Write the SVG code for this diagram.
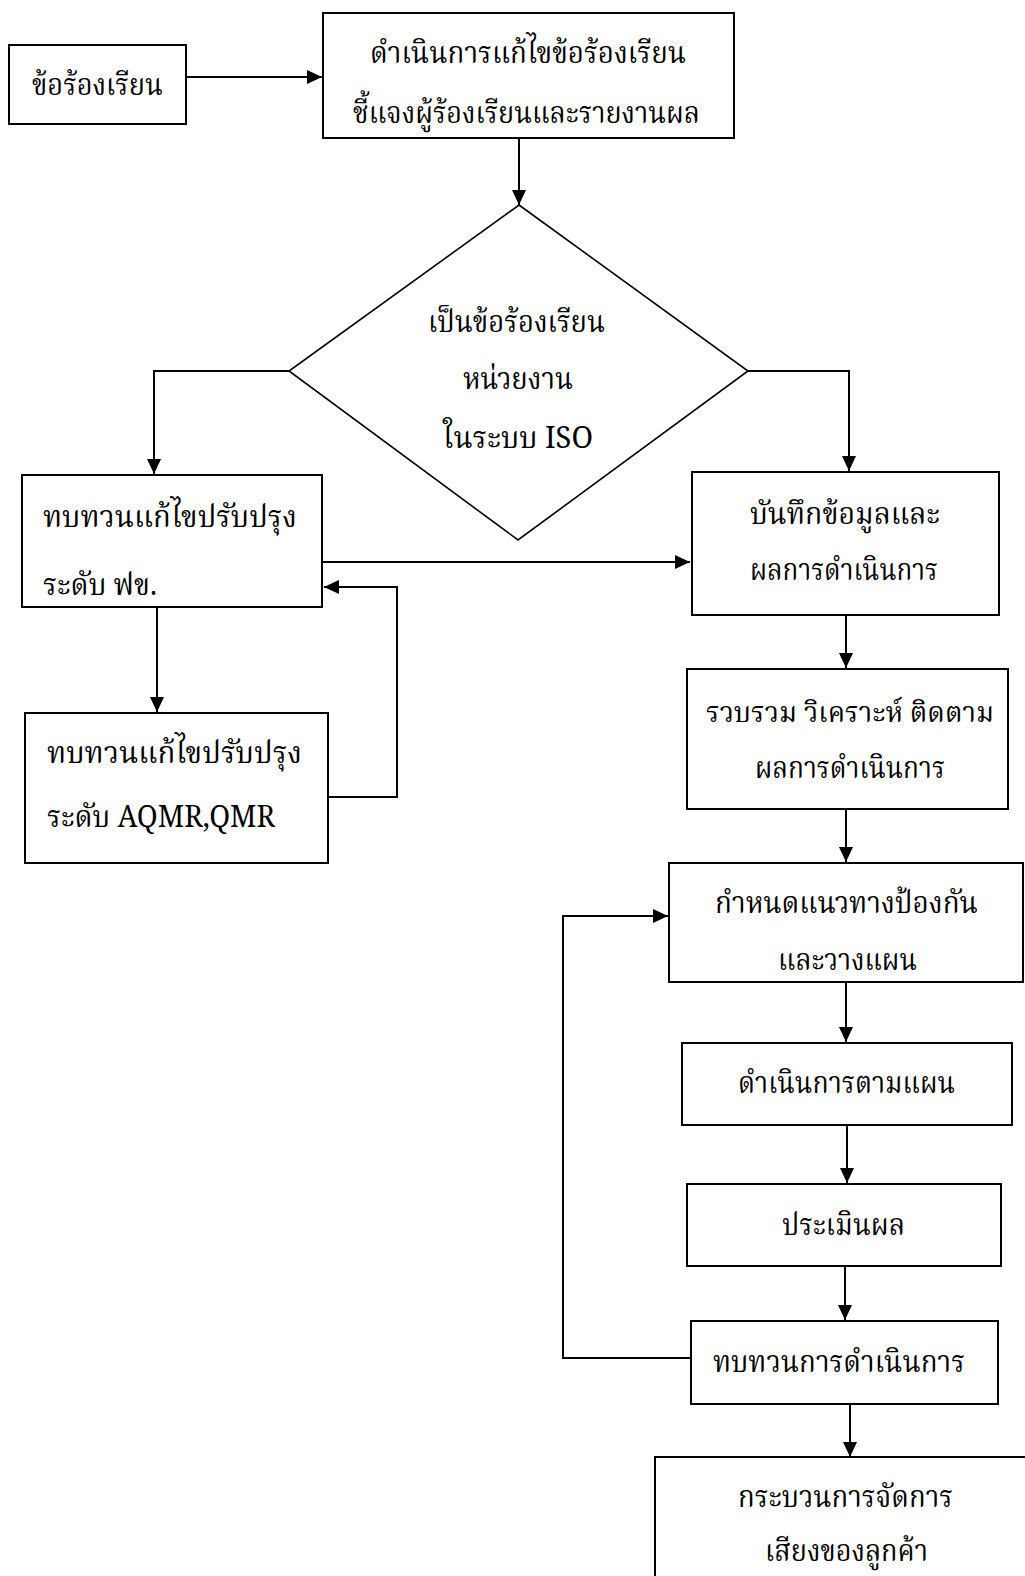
<svg xmlns="http://www.w3.org/2000/svg" width="1025" height="1576" viewBox="0 0 1025 1576">
<style>
.box{fill:#fff;stroke:#000;stroke-width:2}
.dia{fill:#fff;stroke:#000;stroke-width:1.6}
.c{fill:none;stroke:#000;stroke-width:2}
text{font-family:"Noto Serif Thai","Noto Sans Thai","Liberation Serif","DejaVu Serif",serif;font-size:31px;fill:#000}
.sm{font-size:28px}
</style>
<defs>
<marker id="ah" markerUnits="userSpaceOnUse" markerWidth="16" markerHeight="14" refX="15" refY="7" orient="auto">
<path d="M0,0 L15,7 L0,14 z" fill="#000"/>
</marker>
</defs>
<rect width="1025" height="1576" fill="#fff"/>
<g id="connectors">
<path class="c" d="M186,77 H322" marker-end="url(#ah)"/>
<path class="c" d="M519,138 V205" marker-end="url(#ah)"/>
<path class="c" d="M289,371 H154 V474" marker-end="url(#ah)"/>
<path class="c" d="M748,371 H849 V471" marker-end="url(#ah)"/>
<path class="c" d="M322,562 H690" marker-end="url(#ah)"/>
<path class="c" d="M157,607 V712" marker-end="url(#ah)"/>
<path class="c" d="M328,797 H397 V587 H324" marker-end="url(#ah)"/>
<path class="c" d="M846,615 V668" marker-end="url(#ah)"/>
<path class="c" d="M846,809 V862" marker-end="url(#ah)"/>
<path class="c" d="M846,982 V1042" marker-end="url(#ah)"/>
<path class="c" d="M847,1125 V1183" marker-end="url(#ah)"/>
<path class="c" d="M845,1266 V1320" marker-end="url(#ah)"/>
<path class="c" d="M850,1404 V1457" marker-end="url(#ah)"/>
<path class="c" d="M691,1358 H563 V916 H668" marker-end="url(#ah)"/>
</g>
<g id="n-complaint">
<rect class="box" x="9" y="45" width="177" height="79"/>
<text x="32" y="95" textLength="131" lengthAdjust="spacingAndGlyphs">ข้อร้องเรียน</text>
</g>
<g id="n-handle">
<rect class="box" x="323" y="13" width="411" height="125"/>
<text x="370" y="63" textLength="316" lengthAdjust="spacingAndGlyphs">ดำเนินการแก้ไขข้อร้องเรียน</text>
<text x="353" y="123" textLength="347" lengthAdjust="spacingAndGlyphs">ชี้แจงผู้ร้องเรียนและรายงานผล</text>
</g>
<g id="n-decision">
<polygon class="dia" points="519,205 748,371 518,540 289,371"/>
<text x="428" y="332" textLength="177" lengthAdjust="spacingAndGlyphs">เป็นข้อร้องเรียน</text>
<text x="463" y="389" textLength="110" lengthAdjust="spacingAndGlyphs">หน่วยงาน</text>
<text x="443" y="448" textLength="150" lengthAdjust="spacingAndGlyphs">ในระบบ ISO</text>
</g>
<g id="n-review-fk">
<rect class="box" x="22" y="475" width="300" height="132"/>
<text x="43" y="527" textLength="254" lengthAdjust="spacingAndGlyphs">ทบทวนแก้ไขปรับปรุง</text>
<text x="43" y="595" textLength="114" lengthAdjust="spacingAndGlyphs">ระดับ ฟข.</text>
</g>
<g id="n-record">
<rect class="box" x="692" y="472" width="307" height="143"/>
<text x="750" y="524" textLength="190" lengthAdjust="spacingAndGlyphs">บันทึกข้อมูลและ</text>
<text x="750" y="580" textLength="188" lengthAdjust="spacingAndGlyphs">ผลการดำเนินการ</text>
</g>
<g id="n-review-aqmr">
<rect class="box" x="25" y="713" width="303" height="150"/>
<text x="47" y="763" textLength="255" lengthAdjust="spacingAndGlyphs">ทบทวนแก้ไขปรับปรุง</text>
<text x="47" y="827" textLength="228" lengthAdjust="spacingAndGlyphs">ระดับ AQMR,QMR</text>
</g>
<g id="n-analyze">
<rect class="box" x="687" y="669" width="321" height="140"/>
<text class="sm" x="706" y="722" textLength="288" lengthAdjust="spacingAndGlyphs">รวบรวม วิเคราะห์ ติดตาม</text>
<text x="755" y="778" textLength="190" lengthAdjust="spacingAndGlyphs">ผลการดำเนินการ</text>
</g>
<g id="n-prevent">
<rect class="box" x="669" y="863" width="354" height="119"/>
<text x="715" y="913" textLength="263" lengthAdjust="spacingAndGlyphs">กำหนดแนวทางป้องกัน</text>
<text x="778" y="970" textLength="139" lengthAdjust="spacingAndGlyphs">และวางแผน</text>
</g>
<g id="n-execute">
<rect class="box" x="682" y="1043" width="330" height="82"/>
<text x="738" y="1093" textLength="217" lengthAdjust="spacingAndGlyphs">ดำเนินการตามแผน</text>
</g>
<g id="n-evaluate">
<rect class="box" x="687" y="1184" width="314" height="82"/>
<text x="782" y="1235" textLength="123" lengthAdjust="spacingAndGlyphs">ประเมินผล</text>
</g>
<g id="n-review-op">
<rect class="box" x="691" y="1321" width="307" height="83"/>
<text x="713" y="1372" textLength="252" lengthAdjust="spacingAndGlyphs">ทบทวนการดำเนินการ</text>
</g>
<g id="n-voc">
<rect class="box" x="655" y="1457" width="380" height="130"/>
<text x="738" y="1507" textLength="215" lengthAdjust="spacingAndGlyphs">กระบวนการจัดการ</text>
<text x="765" y="1561" textLength="163" lengthAdjust="spacingAndGlyphs">เสียงของลูกค้า</text>
</g>
</svg>
